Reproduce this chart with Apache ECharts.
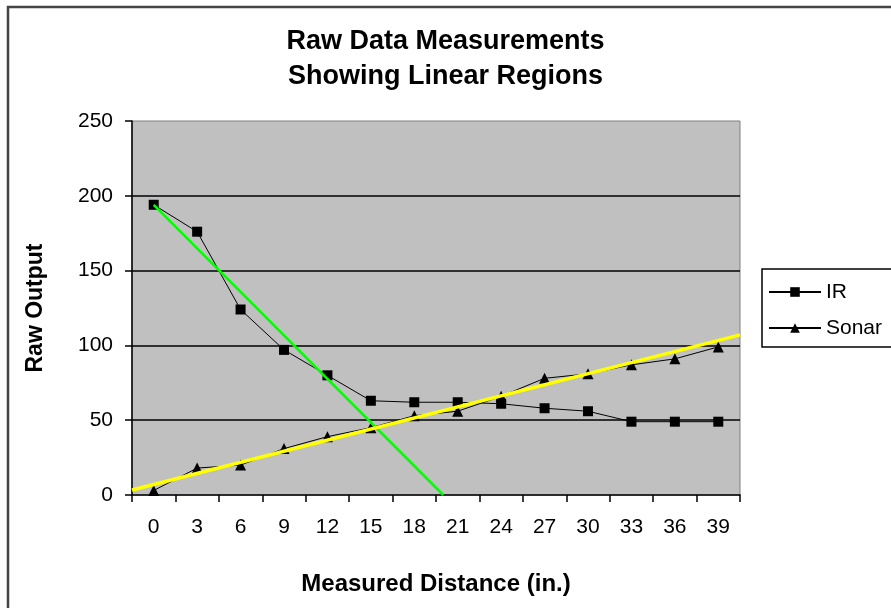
<!DOCTYPE html>
<html>
<head>
<meta charset="utf-8">
<script src="https://cdn.jsdelivr.net/npm/echarts@6/dist/echarts.min.js"></script>
<style>
html,body{margin:0;padding:0;background:#fff;}
#main{width:891px;height:608px;}
</style>
</head>
<body>
<div id="main"></div>
<script>
// ---- data ----
var categories = ['0','3','6','9','12','15','18','21','24','27','30','33','36','39'];
var irValues = [194, 176, 124, 97, 80, 63, 62, 62, 61, 58, 56, 49, 49, 49];
var sonarValues = [3, 18, 20, 31, 39, 45, 53, 56, 66, 78, 81, 87, 91, 99];
var irTrend = [[0, 194], [20, 0]];
var sonarTrend = [[-1.5, 3.3], [40.5, 107]];
var yTicks = [0, 50, 100, 150, 200, 250];

var chart = echarts.init(document.getElementById('main'), null, {renderer: 'canvas'});
var font = 'Liberation Sans, Arial, sans-serif';

chart.setOption({
  animation: false,
  backgroundColor: '#fff',
  title: {
    text: 'Raw Data Measurements\nShowing Linear Regions',
    left: 'center',
    top: 24,
    padding: 0,
    textStyle: {fontFamily: font, fontWeight: 'bold', fontSize: 27, lineHeight: 35, color: '#000'}
  },
  graphic: [{
    type: 'rect',
    shape: {x: 8, y: 7, width: 1000, height: 1000},
    style: {fill: 'none', stroke: '#444', lineWidth: 2.5},
    silent: true
  }],
  legend: {
    orient: 'vertical',
    left: 762,
    top: 269,
    padding: [12, 120, 8, 6],
    itemGap: 14,
    itemWidth: 52,
    itemHeight: 12,
    borderColor: '#000',
    borderWidth: 1.5,
    backgroundColor: '#fff',
    data: ['IR', 'Sonar'],
    textStyle: {fontFamily: font, fontSize: 21, lineHeight: 22, color: '#000'}
  },
  grid: {
    left: 132, top: 121, right: 151, bottom: 113,
    show: true, backgroundColor: '#C0C0C0', borderColor: '#808080', borderWidth: 1
  },
  xAxis: [{
    type: 'category',
    data: categories,
    boundaryGap: true,
    name: 'Measured Distance (in.)',
    nameLocation: 'middle',
    nameGap: 77,
    nameTextStyle: {fontFamily: font, fontWeight: 'bold', fontSize: 24, color: '#000'},
    axisLine: {onZero: false, lineStyle: {color: '#000', width: 1.5}},
    axisTick: {show: true, inside: false, length: 7, lineStyle: {color: '#000', width: 1.5}},
    axisLabel: {fontFamily: font, fontSize: 21, color: '#000', margin: 22, interval: 0},
    splitLine: {show: false}
  }, {
    type: 'value',
    min: -1.5,
    max: 40.5,
    show: false,
    axisLine: {show: false, onZero: false},
    splitLine: {show: false}
  }],
  yAxis: {
    type: 'value',
    min: yTicks[0],
    max: yTicks[yTicks.length - 1],
    interval: 50,
    name: 'Raw Output',
    nameLocation: 'middle',
    nameGap: 85,
    nameTextStyle: {fontFamily: font, fontWeight: 'bold', fontSize: 23, color: '#000'},
    axisLine: {show: true, onZero: false, lineStyle: {color: '#000', width: 1.5}},
    axisTick: {show: true, inside: false, length: 7, lineStyle: {color: '#000', width: 1.5}},
    axisLabel: {fontFamily: font, fontSize: 21, color: '#000', margin: 19},
    splitLine: {show: true, lineStyle: {color: ['rgba(0,0,0,0)', '#000', '#000', '#000', '#000', 'rgba(0,0,0,0)'], width: 1.5}}
  },
  series: [{
    name: 'IR',
    type: 'line',
    data: irValues,
    symbol: 'rect',
    symbolSize: 10,
    showAllSymbol: true,
    itemStyle: {color: '#000'},
    lineStyle: {color: '#000', width: 1},
    z: 3
  }, {
    name: 'Sonar',
    type: 'line',
    data: sonarValues,
    symbol: 'triangle',
    symbolSize: 11,
    showAllSymbol: true,
    itemStyle: {color: '#000'},
    lineStyle: {color: '#000', width: 1},
    z: 3
  }, {
    name: 'IR trend',
    type: 'line',
    xAxisIndex: 1,
    data: irTrend,
    symbol: 'none',
    lineStyle: {color: '#00FF00', width: 2.5},
    z: 5
  }, {
    name: 'Sonar trend',
    type: 'line',
    xAxisIndex: 1,
    data: sonarTrend,
    symbol: 'none',
    lineStyle: {color: '#FFFF00', width: 3.5},
    z: 5
  }]
});
</script>
</body>
</html>
